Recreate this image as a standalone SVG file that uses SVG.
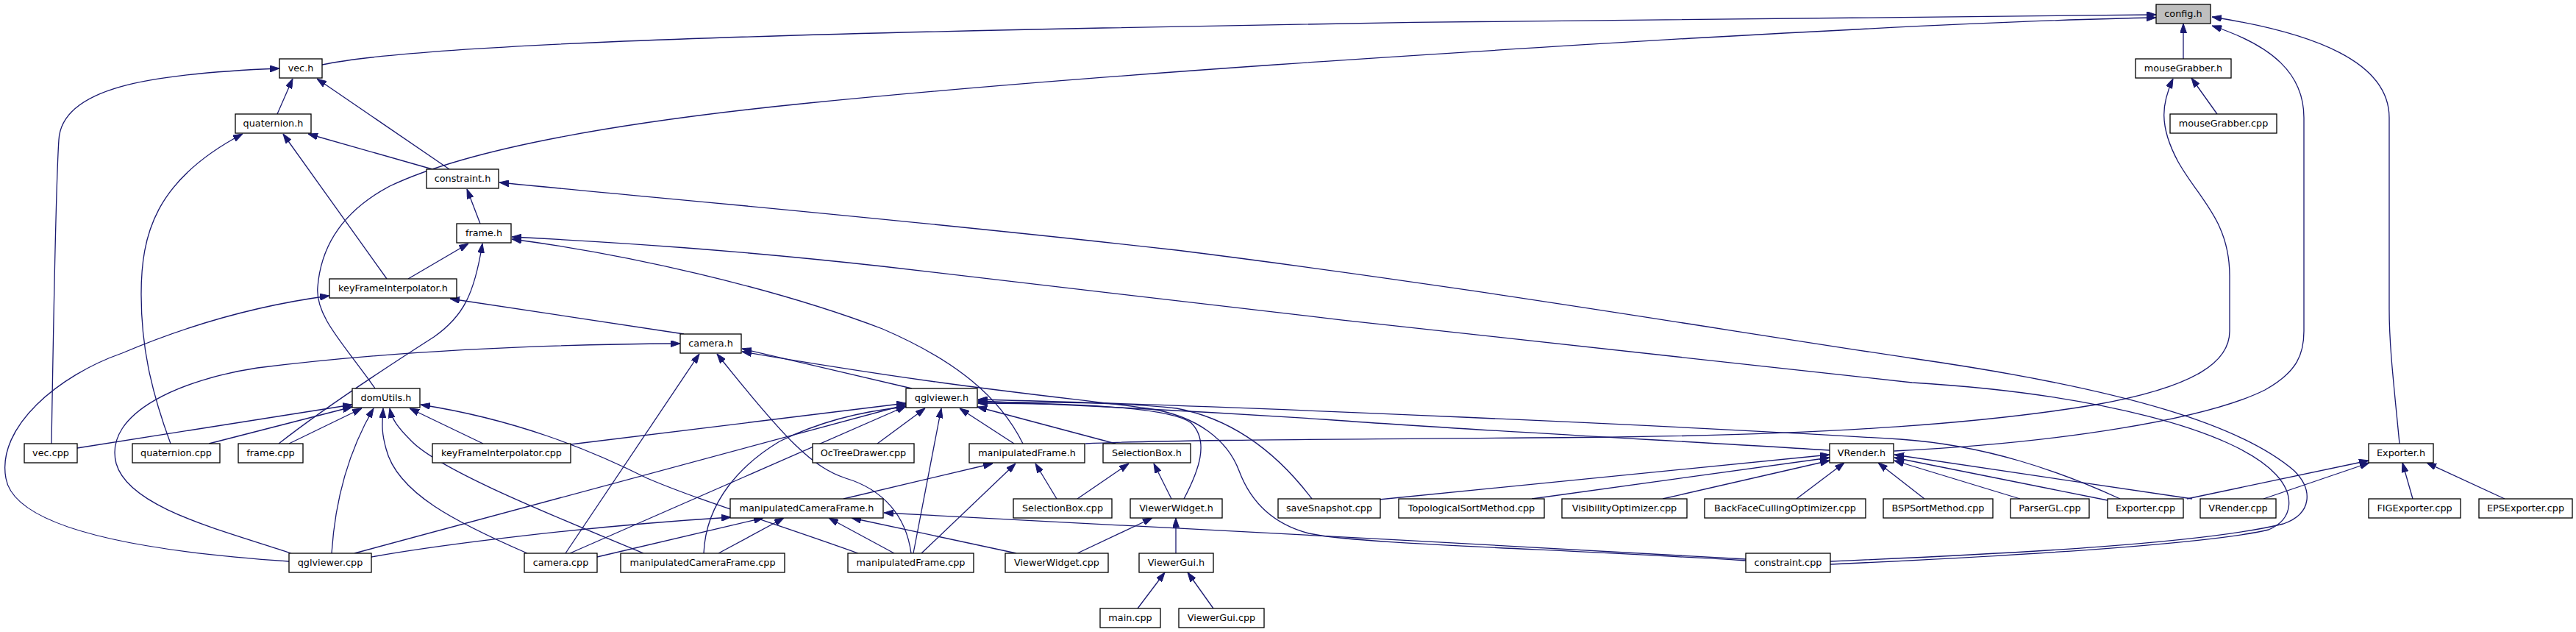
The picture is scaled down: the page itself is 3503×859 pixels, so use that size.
<svg xmlns="http://www.w3.org/2000/svg" width="3503" height="859" viewBox="0 0 3503 859">
<style>
.n rect{fill:#fff;stroke:#000;stroke-width:1.3}
.n.g rect{fill:#bfbfbf}
.n text{font-family:"DejaVu Sans","Liberation Sans",sans-serif;font-size:12.8px;fill:#000;text-anchor:middle}
#edges path{fill:none;stroke:#191970;stroke-width:1.3;marker-end:url(#a)}
</style>
<defs>
<marker id="a" viewBox="0 0 13 9" refX="13" refY="4.5" markerWidth="13" markerHeight="9" markerUnits="userSpaceOnUse" orient="auto">
<path d="M0,0 L13,4.5 L0,9 z" fill="#191970" stroke="#191970" stroke-width="1"/>
</marker>
</defs>
<rect width="3503" height="859" fill="#fff"/>
<g id="edges">
<path d="M438,88 C560,62 1000,48 1500,38 C2000,28 2600,20 2932,20"/>
<path d="M510,528 C470,470 428,430 432,390 C436,340 460,290 530,253 C620,210 800,170 1100,140 C1500,100 2000,70 2300,52 C2600,35 2800,26 2932,24"/>
<path d="M2969,80 L2969,32"/>
<path d="M2576,613 C2800,602 3000,570 3080,530 C3125,505 3133,480 3133,450 L3133,160 C3133,100 3090,62 3008,35"/>
<path d="M3263,603 C3255,520 3249,470 3249,420 L3249,160 C3249,85 3150,45 3008,23"/>
<path d="M3015,155 L2980,106"/>
<path d="M1476,603 C1600,597 1900,597 2200,594 C2500,590 2700,575 2850,550 C2990,525 3032,490 3032,450 L3032,375 C3032,300 2990,270 2962,220 C2935,170 2940,140 2955,107"/>
<path d="M70,603 C72,480 76,250 80,190 C84,120 200,100 380,93"/>
<path d="M377,155 L398,107"/>
<path d="M611,230 L431,107"/>
<path d="M588,230 L419,182"/>
<path d="M232,603 C205,530 192,470 192,400 C192,320 210,245 330,182"/>
<path d="M526,379 L385,182"/>
<path d="M653,304 L635,257"/>
<path d="M555,379 L637,331"/>
<path d="M379,603 C440,555 540,490 590,458 C630,430 645,400 656,331"/>
<path d="M393,763 C200,750 20,720 8,650 C-5,580 80,510 166,480 C260,440 350,415 448,402"/>
<path d="M396,752 C300,720 175,690 158,630 C140,560 250,515 350,500 C550,475 750,468 925,467"/>
<path d="M1240,528 L1009,474"/>
<path d="M2374,762 C2100,745 1850,740 1780,725 C1730,712 1700,680 1685,640 C1670,600 1630,565 1560,555 C1450,540 1300,528 1009,478"/>
<path d="M769,752 L951,481"/>
<path d="M1239,752 C1232,700 1200,665 1150,650 C1105,635 1070,600 975,481"/>
<path d="M105,609 L479,550"/>
<path d="M284,603 L479,553"/>
<path d="M393,603 L492,555"/>
<path d="M657,603 L557,555"/>
<path d="M451,752 C455,690 470,620 508,555"/>
<path d="M717,752 C620,710 540,670 525,610 C518,585 520,575 521,555"/>
<path d="M875,752 C750,700 600,640 560,600 C540,580 533,570 530,555"/>
<path d="M1167,752 C1050,710 950,680 880,650 C800,610 700,570 572,550"/>
<path d="M1193,603 L1258,555"/>
<path d="M1242,752 L1280,555"/>
<path d="M1379,603 L1305,555"/>
<path d="M1517,603 L1329,553"/>
<path d="M776,604 L1232,548"/>
<path d="M482,752 L1232,550"/>
<path d="M775,752 L1232,552"/>
<path d="M957,752 C960,680 1010,630 1060,600 C1120,570 1180,558 1232,553"/>
<path d="M2488,612 C2300,600 2000,585 1800,570 C1600,557 1450,550 1330,545"/>
<path d="M2883,678 C2800,640 2700,605 2584,597 C2300,580 1700,552 1330,543"/>
<path d="M1784,678 C1740,620 1680,570 1600,555 C1500,545 1400,547 1330,547"/>
<path d="M1610,678 C1630,640 1645,600 1620,575 C1590,552 1450,548 1330,548"/>
<path d="M1391,603 C1360,540 1300,490 1200,447 C1050,390 850,345 696,325"/>
<path d="M2489,767 C2750,755 3000,740 3085,720 C3120,705 3120,672 3095,645 C3040,585 2850,535 2600,520 C2300,490 1600,410 1200,362 C1000,340 850,330 696,322"/>
<path d="M2489,763 C2750,752 3000,738 3105,712 C3145,698 3145,665 3120,640 C3050,580 2900,530 2600,487 C2350,450 2000,390 1600,340 C1200,295 900,270 679,248"/>
<path d="M930,454 L612,406"/>
<path d="M1147,678 L1350,630"/>
<path d="M505,757 C600,740 800,715 994,703"/>
<path d="M812,757 L1038,704"/>
<path d="M977,752 L1066,704"/>
<path d="M1216,752 L1127,704"/>
<path d="M1382,752 L1158,704"/>
<path d="M2374,760 C2000,740 1500,710 1202,697"/>
<path d="M1253,752 L1381,630"/>
<path d="M1437,678 L1408,630"/>
<path d="M1465,678 L1535,630"/>
<path d="M1593,678 L1569,630"/>
<path d="M1465,752 L1567,704"/>
<path d="M1599,752 L1599,704"/>
<path d="M1547,827 L1584,778"/>
<path d="M1650,827 L1615,778"/>
<path d="M1875,679 L2488,618"/>
<path d="M2083,678 L2488,622"/>
<path d="M2261,678 L2488,626"/>
<path d="M2443,678 L2508,629"/>
<path d="M2617,678 L2554,629"/>
<path d="M2747,678 L2576,626"/>
<path d="M2866,680 L2576,622"/>
<path d="M2981,678 L2576,618"/>
<path d="M2974,678 L3221,626"/>
<path d="M3078,678 L3222,629"/>
<path d="M3281,678 L3267,629"/>
<path d="M3406,678 L3300,629"/>
</g>
<g id="config_h" class="n g"><rect x="2932" y="6" width="74" height="26"/><text x="2969" y="23">config.h</text></g>
<g id="vec_h" class="n"><rect x="380" y="80" width="58" height="26"/><text x="409" y="97">vec.h</text></g>
<g id="mouseGrabber_h" class="n"><rect x="2904" y="80" width="130" height="26"/><text x="2969" y="97">mouseGrabber.h</text></g>
<g id="quaternion_h" class="n"><rect x="320" y="155" width="103" height="26"/><text x="371.5" y="172">quaternion.h</text></g>
<g id="mouseGrabber_cpp" class="n"><rect x="2951" y="155" width="145" height="26"/><text x="3023.5" y="172">mouseGrabber.cpp</text></g>
<g id="constraint_h" class="n"><rect x="580" y="230" width="98" height="26"/><text x="629" y="247">constraint.h</text></g>
<g id="frame_h" class="n"><rect x="621" y="304" width="74" height="26"/><text x="658" y="321">frame.h</text></g>
<g id="keyFrameInterpolator_h" class="n"><rect x="448" y="379" width="173" height="26"/><text x="534.5" y="396">keyFrameInterpolator.h</text></g>
<g id="camera_h" class="n"><rect x="925" y="454" width="83" height="26"/><text x="966.5" y="471">camera.h</text></g>
<g id="domUtils_h" class="n"><rect x="479" y="528" width="92" height="26"/><text x="525" y="545">domUtils.h</text></g>
<g id="qglviewer_h" class="n"><rect x="1232" y="528" width="97" height="26"/><text x="1280.5" y="545">qglviewer.h</text></g>
<g id="vec_cpp" class="n"><rect x="33" y="603" width="72" height="26"/><text x="69" y="620">vec.cpp</text></g>
<g id="quaternion_cpp" class="n"><rect x="180" y="603" width="119" height="26"/><text x="239.5" y="620">quaternion.cpp</text></g>
<g id="frame_cpp" class="n"><rect x="324" y="603" width="88" height="26"/><text x="368" y="620">frame.cpp</text></g>
<g id="keyFrameInterpolator_cpp" class="n"><rect x="588" y="603" width="188" height="26"/><text x="682" y="620">keyFrameInterpolator.cpp</text></g>
<g id="OcTreeDrawer_cpp" class="n"><rect x="1105" y="603" width="138" height="26"/><text x="1174" y="620">OcTreeDrawer.cpp</text></g>
<g id="manipulatedFrame_h" class="n"><rect x="1318" y="603" width="157" height="26"/><text x="1396.5" y="620">manipulatedFrame.h</text></g>
<g id="SelectionBox_h" class="n"><rect x="1500" y="603" width="119" height="26"/><text x="1559.5" y="620">SelectionBox.h</text></g>
<g id="VRender_h" class="n"><rect x="2488" y="603" width="87" height="26"/><text x="2531.5" y="620">VRender.h</text></g>
<g id="Exporter_h" class="n"><rect x="3221" y="603" width="88" height="26"/><text x="3265" y="620">Exporter.h</text></g>
<g id="manipulatedCameraFrame_h" class="n"><rect x="993" y="678" width="208" height="26"/><text x="1097" y="695">manipulatedCameraFrame.h</text></g>
<g id="SelectionBox_cpp" class="n"><rect x="1378" y="678" width="134" height="26"/><text x="1445" y="695">SelectionBox.cpp</text></g>
<g id="ViewerWidget_h" class="n"><rect x="1537" y="678" width="125" height="26"/><text x="1599.5" y="695">ViewerWidget.h</text></g>
<g id="saveSnapshot_cpp" class="n"><rect x="1738" y="678" width="139" height="26"/><text x="1807.5" y="695">saveSnapshot.cpp</text></g>
<g id="TopologicalSortMethod_cpp" class="n"><rect x="1902" y="678" width="198" height="26"/><text x="2001" y="695">TopologicalSortMethod.cpp</text></g>
<g id="VisibilityOptimizer_cpp" class="n"><rect x="2124" y="678" width="170" height="26"/><text x="2209" y="695">VisibilityOptimizer.cpp</text></g>
<g id="BackFaceCullingOptimizer_cpp" class="n"><rect x="2318" y="678" width="219" height="26"/><text x="2427.5" y="695">BackFaceCullingOptimizer.cpp</text></g>
<g id="BSPSortMethod_cpp" class="n"><rect x="2561" y="678" width="149" height="26"/><text x="2635.5" y="695">BSPSortMethod.cpp</text></g>
<g id="ParserGL_cpp" class="n"><rect x="2734" y="678" width="107" height="26"/><text x="2787.5" y="695">ParserGL.cpp</text></g>
<g id="Exporter_cpp" class="n"><rect x="2866" y="678" width="103" height="26"/><text x="2917.5" y="695">Exporter.cpp</text></g>
<g id="VRender_cpp" class="n"><rect x="2992" y="678" width="103" height="26"/><text x="3043.5" y="695">VRender.cpp</text></g>
<g id="FIGExporter_cpp" class="n"><rect x="3221" y="678" width="125" height="26"/><text x="3283.5" y="695">FIGExporter.cpp</text></g>
<g id="EPSExporter_cpp" class="n"><rect x="3371" y="678" width="127" height="26"/><text x="3434.5" y="695">EPSExporter.cpp</text></g>
<g id="qglviewer_cpp" class="n"><rect x="393" y="752" width="112" height="26"/><text x="449" y="769">qglviewer.cpp</text></g>
<g id="camera_cpp" class="n"><rect x="713" y="752" width="99" height="26"/><text x="762.5" y="769">camera.cpp</text></g>
<g id="manipulatedCameraFrame_cpp" class="n"><rect x="844" y="752" width="223" height="26"/><text x="955.5" y="769">manipulatedCameraFrame.cpp</text></g>
<g id="manipulatedFrame_cpp" class="n"><rect x="1153" y="752" width="171" height="26"/><text x="1238.5" y="769">manipulatedFrame.cpp</text></g>
<g id="ViewerWidget_cpp" class="n"><rect x="1367" y="752" width="140" height="26"/><text x="1437" y="769">ViewerWidget.cpp</text></g>
<g id="ViewerGui_h" class="n"><rect x="1549" y="752" width="101" height="26"/><text x="1599.5" y="769">ViewerGui.h</text></g>
<g id="constraint_cpp" class="n"><rect x="2374" y="752" width="115" height="26"/><text x="2431.5" y="769">constraint.cpp</text></g>
<g id="main_cpp" class="n"><rect x="1496" y="827" width="82" height="26"/><text x="1537" y="844">main.cpp</text></g>
<g id="ViewerGui_cpp" class="n"><rect x="1603" y="827" width="116" height="26"/><text x="1661" y="844">ViewerGui.cpp</text></g>
</svg>
